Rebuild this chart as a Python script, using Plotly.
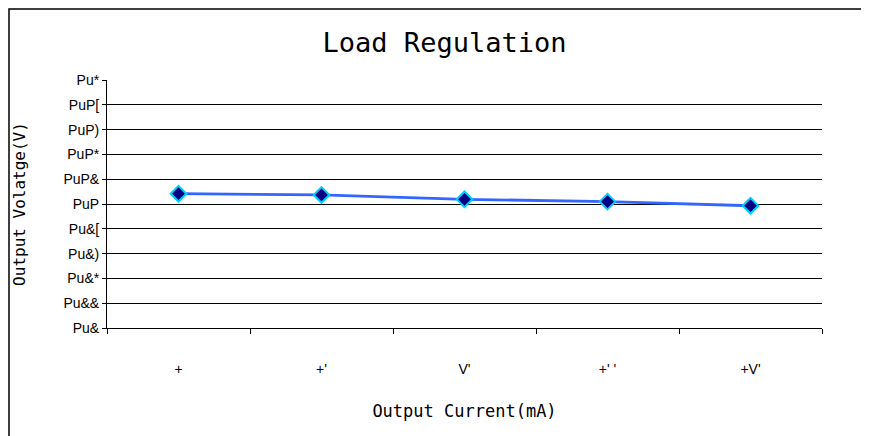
import plotly.graph_objects as go

categories = ["+", "+'", "V'", "+' '", "+V'"]
voltage = [5.1083, 5.1073, 5.1038, 5.1019, 5.0986]
y_tick_vals = [5.00, 5.02, 5.04, 5.06, 5.08, 5.10, 5.12, 5.14, 5.16, 5.18, 5.20]
y_tick_text = ["Pu&", "Pu&&", "Pu&*", "Pu&)", "Pu&[", "PuP", "PuP&", "PuP*", "PuP)", "PuP[", "Pu*"]

fig = go.Figure()
fig.add_trace(go.Scatter(
    x=categories, y=voltage, mode="lines+markers",
    line=dict(color="#3366FF", width=2.8),
    marker=dict(symbol="diamond", size=12, color="#000080",
                line=dict(color="#00CCFF", width=2)),
    showlegend=False,
))

mono = "DejaVu Sans Mono"
L, T, PW, PH = 99, 72, 715, 248
W, H = 861, 428
fig.update_layout(
    width=W, height=H,
    margin=dict(l=L, r=W - L - PW, t=T, b=H - T - PH, autoexpand=False),
    paper_bgcolor="white", plot_bgcolor="white",
    title=dict(text="Load Regulation", x=0.507, xanchor="center", y=1 - 35 / H, yanchor="middle",
               font=dict(family=mono, size=27, color="black")),
    xaxis=dict(
        type="category", range=[-0.5, len(categories) - 0.5],
        tickson="boundaries", ticks="outside", ticklen=5,
        tickcolor="black", showline=True, linecolor="black", linewidth=1,
        showgrid=False, ticklabelstandoff=28,
        tickfont=dict(family="Liberation Sans", size=14, color="black"),
        title=dict(text="Output Current(mA)", standoff=29,
                   font=dict(family=mono, size=17, color="black")),
    ),
    yaxis=dict(
        range=[5.0, 5.2], tickvals=y_tick_vals, ticktext=y_tick_text,
        ticks="outside", ticklen=4, tickcolor="black",
        showline=True, linecolor="black", linewidth=1,
        showgrid=True, gridcolor="black", gridwidth=1, zeroline=False,
        tickfont=dict(family="Liberation Sans", size=14, color="black"),
        title=dict(text="Output Volatge(V)", standoff=33,
                   font=dict(family=mono, size=16, color="black")),
    ),
    shapes=[dict(type="rect", xref="paper", yref="paper",
                 x0=(1 - L) / PW, x1=(857 - L) / PW,
                 y0=(T + PH - 440) / PH, y1=(T + PH - 1) / PH,
                 line=dict(color="black", width=1.5), layer="below")],
)

fig.write_html("out.html")
